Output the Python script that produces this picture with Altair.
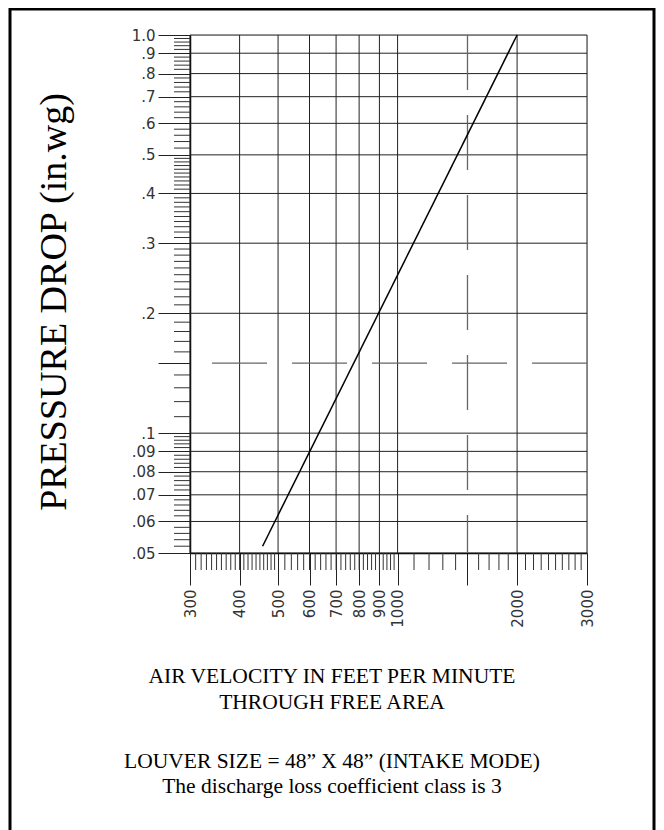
import altair as alt
import pandas as pd

# ---------------- data ----------------
velocity = [457, 2000]          # ft/min
pressure = [0.052, 1.0]         # in.wg

x_major = [300, 400, 500, 600, 700, 800, 900, 1000, 1500, 2000, 3000]
x_grid = [300, 400, 500, 600, 700, 800, 900, 1000, 2000, 3000]
x_dashed = [1500]
x_minor = (list(range(310, 500, 10)) + list(range(520, 1000, 20))
           + [1100, 1200, 1300, 1400, 1600, 1700, 1800, 1900]
           + [2100, 2200, 2300, 2400, 2500, 2600, 2700, 2800, 2900])

y_major = [0.05, 0.06, 0.07, 0.08, 0.09, 0.1, 0.15, 0.2, 0.3, 0.4, 0.5, 0.6, 0.7, 0.8, 0.9, 1.0]
y_labels = [".05", ".06", ".07", ".08", ".09", ".1", "", ".2", ".3", ".4", ".5", ".6", ".7", ".8", ".9", "1.0"]
y_grid = [0.05, 0.06, 0.07, 0.08, 0.09, 0.1, 0.2, 0.3, 0.4, 0.5, 0.6, 0.7, 0.8, 0.9, 1.0]
y_dashed = [0.15]
y_minor = ([round(0.05 + 0.002 * i, 3) for i in range(1, 25) if (i % 5) != 0]
           + [0.11, 0.12, 0.13, 0.14, 0.16, 0.17, 0.18, 0.19]
           + [round(0.2 + 0.01 * i, 2) for i in range(1, 30) if i % 10 != 0]
           + [0.52, 0.54, 0.56, 0.58, 0.62, 0.64, 0.66, 0.68, 0.72, 0.74, 0.76, 0.78,
              0.82, 0.84, 0.86, 0.88, 0.92, 0.94, 0.96, 0.98])

texts = ["AIR VELOCITY IN FEET PER MINUTE", "THROUGH FREE AREA",
         "LOUVER SIZE = 48\u201d X 48\u201d (INTAKE MODE)",
         "The discharge loss coefficient class is 3"]

W, H = 397, 518

# ---------------- scales / axes ----------------
xs = alt.Scale(type="log", domain=[300, 3000], nice=False)
ys = alt.Scale(type="log", domain=[0.05, 1.0], nice=False)

lab_arr = "[" + ",".join("'" + s + "'" for s in y_labels) + "]"
val_arr = "[" + ",".join(repr(v) for v in y_major) + "]"

x_axis = alt.Axis(values=x_major, title=None, grid=False, tickSize=32, tickColor="#222",
                  domainColor="#000", domainWidth=1.5, labelAngle=-90, labelPadding=4,
                  labelFont="DejaVu Sans", labelFontSize=15, labelColor="#333",
                  labelOverlap=False, labelFlush=False, format="d",
                  labelExpr="datum.value == 1500 ? '' : datum.label")
y_axis = alt.Axis(values=y_major, title=None, grid=False, tickSize=32, tickColor="#222",
                  domainColor="#000", domainWidth=1.5, labelPadding=3,
                  labelFont="DejaVu Sans", labelFontSize=15, labelColor="#333",
                  labelOverlap=False, labelFlush=False,
                  labelExpr=lab_arr + "[indexof(" + val_arr + ", datum.value)]")

X = lambda f: alt.X(f + ":Q", scale=xs, axis=x_axis)
Y = lambda f: alt.Y(f + ":Q", scale=ys, axis=y_axis)

vgrid = alt.Chart(pd.DataFrame({"v": x_grid})).mark_rule(color="#222", strokeWidth=1).encode(x=X("v"))
hgrid = alt.Chart(pd.DataFrame({"p": y_grid})).mark_rule(color="#222", strokeWidth=1).encode(y=Y("p"))
vdash = alt.Chart(pd.DataFrame({"v": x_dashed})).mark_rule(color="#666", strokeWidth=1.3,
                                                           strokeDash=[55, 25]).encode(x=X("v"))
hdash = alt.Chart(pd.DataFrame({"p": y_dashed})).mark_rule(color="#666", strokeWidth=1.3,
                                                           strokeDash=[55, 25]).encode(y=Y("p"))
xminor = alt.Chart(pd.DataFrame({"v": x_minor})).mark_rule(color="#333", strokeWidth=1).encode(
    x=X("v"), y=alt.value(H), y2=alt.value(H + 17))
yminor = alt.Chart(pd.DataFrame({"p": y_minor})).mark_rule(color="#333", strokeWidth=1).encode(
    y=Y("p"), x=alt.value(-16), x2=alt.value(0))

curve = alt.Chart(pd.DataFrame({"v": velocity, "p": pressure})).mark_line(
    color="#000", strokeWidth=1.5).encode(x=X("v"), y=Y("p"))

one = pd.DataFrame({"a": [0]})
border = alt.Chart(one).mark_rect(fillOpacity=0, stroke="#000", strokeWidth=3).encode(
    x=alt.value(-180), x2=alt.value(464), y=alt.value(-26), y2=alt.value(900))

ytitle = alt.Chart(one).mark_text(text="PRESSURE DROP (in.wg)", angle=270, font="Liberation Serif",
                                  fontSize=38, color="#000", align="center", baseline="middle").encode(
    x=alt.value(-135), y=alt.value(H / 2 + 8))

tlayers = []
for t, yy in zip(texts, [642, 668, 727, 752]):
    tlayers.append(alt.Chart(one).mark_text(text=t, font="Liberation Serif", fontSize=21.5, color="#000",
                                            align="center", baseline="middle").encode(
        x=alt.value(142), y=alt.value(yy)))

chart = alt.layer(border, vgrid, hgrid, vdash, hdash, xminor, yminor, curve, ytitle, *tlayers).properties(
    width=W, height=H,
    autosize=alt.AutoSizeParams(type="none"),
    padding={"left": 182, "top": 27, "right": 69, "bottom": 300},
).configure_view(stroke=None).configure(background="#ffffff")

chart.save("out.html", embed_options={"renderer": "svg", "actions": False})
